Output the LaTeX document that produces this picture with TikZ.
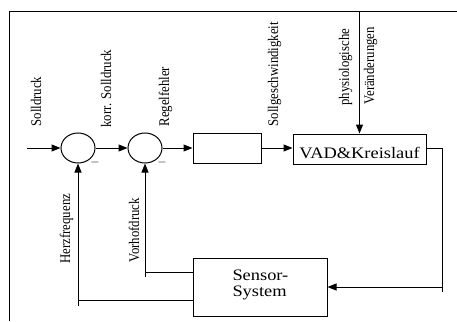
\documentclass[tikz,border=0pt]{standalone}
\usepackage{fontspec}
\setmainfont{Liberation Serif}
\usetikzlibrary{arrows.meta,shapes.geometric}
\newcommand{\wide}[1]{\scalebox{1.15}[1]{#1}}
\newcommand{\tall}[1]{\scalebox{1}[1.15]{#1}}
\begin{document}
\begin{tikzpicture}[x=1pt, y=-1pt, line width=1pt, >={Triangle[length=9pt,width=7pt]},
    summer/.style={draw, ellipse, minimum width=34pt, minimum height=30pt, inner sep=0pt},
    block/.style={draw, rectangle, inner sep=0pt},
    sig/.style={rotate=90, anchor=base west, inner sep=0pt, font=\fontsize{12.8}{14}\selectfont}]
    \useasboundingbox (0,0) rectangle (457,321);

    % Frame
    \draw (9,321) -- (9,12) -- (457,12);

    % Summing points and blocks
    \node[summer] (sum1) at (78,148) {};
    \node[summer] (sum2) at (145,148) {};
    \node[block, minimum width=68pt, minimum height=30pt] (regler) at (227,148) {};
    \node[block, minimum width=133pt, minimum height=30pt, text height=18pt, text depth=0pt,
          font=\fontsize{16}{16}\selectfont] (vad) at (359.5,149) {\wide{VAD\&Kreislauf}};
    \node[block, minimum width=134pt, minimum height=58pt] (sensor) at (260,287) {};
    \node[align=left, anchor=west, inner sep=0pt,
          font=\fontsize{16}{16.5}\selectfont] (senstext) at (232,285) {\wide{Sensor-}\\\wide{System}};

    % Minus signs
    \node[inner sep=0pt, font=\fontsize{12.8}{14}\selectfont] (m1) at (95,162) {$-$};
    \node[inner sep=0pt, font=\fontsize{12.8}{14}\selectfont] (m2) at (162,162) {$-$};

    % Forward path
    \coordinate (in) at (27,148);
    \draw[->] (in) -- (sum1.west);
    \draw[->] (sum1.east) -- (sum2.west);
    \draw[->] (sum2.east) -- (regler.west);
    \draw[->] (regler.east) -- (regler.east -| vad.west);

    % Disturbance
    \coordinate (dist) at (359.5,12);
    \draw[->] (dist) -- (vad.north);

    % Output to sensor
    \coordinate (outlow) at (442,292);
    \coordinate (outsens) at (442,287);
    \draw (vad.east |- regler.east) -| (outlow);
    \draw[->] (outsens) -- (sensor.east);

    % Feedback paths
    \coordinate (hzlow) at (78,306);
    \coordinate (hzin) at (193,300);
    \coordinate (vdlow) at (145,277);
    \coordinate (vdin) at (193,272);
    \draw (hzin) -- (hzin -| sum1);
    \draw[->] (hzlow) -- (sum1.south);
    \draw (vdin) -- (vdin -| sum2);
    \draw[->] (vdlow) -- (sum2.south);

    % Signal labels
    \node[sig] (l1) at (41,127) {\tall{Solldruck}};
    \node[sig] (l2) at (111,128) {\tall{korr. Solldruck}};
    \node[sig] (l3) at (169,127) {\tall{Regelfehler}};
    \node[sig] (l4) at (278,127) {\tall{Sollgeschwindigkeit}};
    \node[sig] (l5) at (349,106) {\tall{physiologische}};
    \node[sig] (l6) at (374,105) {\tall{Veränderungen}};
    \node[sig] (l7) at (70,264) {\tall{Herzfrequenz}};
    \node[sig] (l8) at (139,263) {\tall{Vorhofdruck}};
\end{tikzpicture}
\end{document}
